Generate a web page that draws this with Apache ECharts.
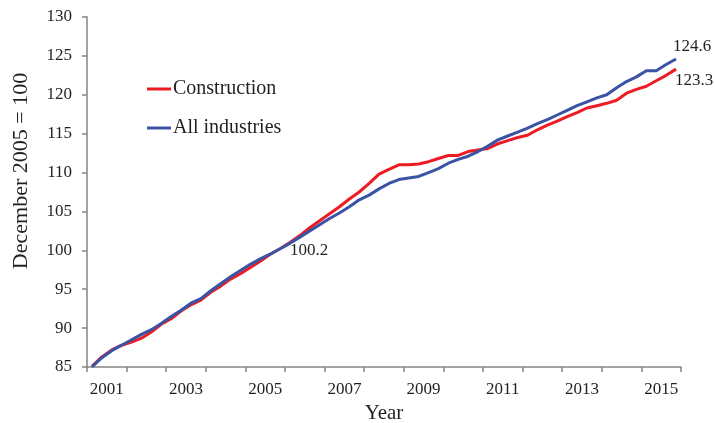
<!DOCTYPE html>
<html>
<head>
<meta charset="utf-8">
<script src="https://cdn.jsdelivr.net/npm/echarts@6/dist/echarts.min.js"></script>
<style>
  html, body { margin: 0; padding: 0; background: #fff; }
  #chart { width: 715px; height: 423px; }
</style>
</head>
<body>
<div id="chart"></div>
<script>
// Year categories (x axis ticks / labels)
const years = ['2001','2002','2003','2004','2005','2006','2007','2008','2009','2010','2011','2012','2013','2014','2015'];
// Quarterly categories (data positions)
const quarters = [];
years.forEach(function (y) { ['Q1','Q2','Q3','Q4'].forEach(function (q) { quarters.push(y + q); }); });

// Employment cost index, December 2005 = 100
const construction = [
  85.1, 86.3, 87.2, 87.8, 88.2, 88.7, 89.5, 90.5,
  91.2, 92.2, 93.0, 93.6, 94.6, 95.4, 96.3, 97.0,
  97.8, 98.6, 99.5, 100.2, 101.0, 101.9, 102.9, 103.8,
  104.7, 105.6, 106.6, 107.5, 108.6, 109.8, 110.4, 111.0,
  111.0, 111.1, 111.4, 111.8, 112.2, 112.2, 112.7, 112.9,
  113.1, 113.7, 114.1, 114.5, 114.8, 115.5, 116.1, 116.6,
  117.2, 117.7, 118.3, 118.6, 118.9, 119.3, 120.2, 120.7,
  121.1, 121.8, 122.5, 123.3
];
const allIndustries = [
  85.0, 86.2, 87.1, 87.8, 88.5, 89.2, 89.8, 90.6,
  91.5, 92.3, 93.2, 93.8, 94.8, 95.7, 96.6, 97.4,
  98.2, 98.9, 99.5, 100.2, 100.9, 101.7, 102.5, 103.3,
  104.1, 104.8, 105.6, 106.5, 107.1, 107.9, 108.6, 109.1,
  109.3, 109.5, 110.0, 110.5, 111.2, 111.7, 112.1, 112.7,
  113.4, 114.2, 114.7, 115.2, 115.7, 116.3, 116.8, 117.4,
  118.0, 118.6, 119.1, 119.6, 120.0, 120.9, 121.7, 122.3,
  123.1, 123.1, 123.9, 124.6
];
const seriesNames = ['Construction', 'All industries'];
const yTicks = { min: 85, max: 130, interval: 5 };
const annotateIndex = 19; // December 2005

const FONT = "'Liberation Serif', 'Times New Roman', serif";
const TXT = '#231f20';
const AXIS = '#858585';
const RED = '#ed1c24';
const BLUE = '#3a53a4';
const last = quarters.length - 1;

const chart = echarts.init(document.getElementById('chart'), null, { renderer: 'canvas' });
chart.setOption({
  animation: false,
  backgroundColor: '#ffffff',
  grid: { left: 87, right: 34, top: 17, bottom: 56, containLabel: false, outerBoundsMode: 'none' },
  legend: {
    orient: 'vertical',
    left: 147,
    top: 78,
    padding: 0,
    itemWidth: 24,
    itemHeight: 3,
    itemGap: 17,
    icon: 'rect',
    data: seriesNames,
    textStyle: { fontFamily: FONT, fontSize: 20, color: TXT, padding: [0, 0, 0, -3], lineHeight: 22 }
  },
  graphic: [{
    type: 'text',
    x: 21,
    y: 171,
    rotation: Math.PI / 2,
    style: {
      text: 'December 2005 = 100',
      font: '22px ' + FONT,
      fill: TXT,
      textAlign: 'center',
      textVerticalAlign: 'middle'
    }
  }],
  xAxis: [{
    type: 'category',
    data: years,
    boundaryGap: true,
    name: 'Year',
    nameLocation: 'middle',
    nameGap: 36,
    nameTextStyle: { fontFamily: FONT, fontSize: 21, color: TXT },
    axisLine: { lineStyle: { color: AXIS, width: 1.5 } },
    axisTick: { show: true, interval: 0, length: 5, lineStyle: { color: AXIS, width: 1.5 } },
    axisLabel: { interval: 1, margin: 14, fontFamily: FONT, fontSize: 17, color: TXT },
    splitLine: { show: false }
  }, {
    type: 'category',
    data: quarters,
    boundaryGap: true,
    show: false
  }],
  yAxis: {
    type: 'value',
    min: yTicks.min,
    max: yTicks.max,
    interval: yTicks.interval,
    axisLine: { show: true, lineStyle: { color: AXIS, width: 1.5 } },
    axisTick: { show: true, length: 5, lineStyle: { color: AXIS, width: 1.5 } },
    axisLabel: { margin: 15, fontFamily: FONT, fontSize: 17, color: TXT },
    splitLine: { show: false }
  },
  series: [{
    name: seriesNames[0],
    type: 'line',
    xAxisIndex: 1,
    data: construction,
    showSymbol: false,
    symbol: 'none',
    lineStyle: { color: RED, width: 3 },
    itemStyle: { color: RED },
    z: 2,
    markPoint: {
      symbol: 'circle',
      symbolSize: 0,
      itemStyle: { color: 'rgba(0,0,0,0)' },
      label: { show: true, position: 'right', fontFamily: FONT, fontSize: 17, color: TXT,
               formatter: function (p) { return p.value.toFixed(1); } },
      data: [{ coord: [quarters[last], construction[last]], value: construction[last], label: { offset: [-6, 11] } }]
    }
  }, {
    name: seriesNames[1],
    type: 'line',
    xAxisIndex: 1,
    data: allIndustries,
    showSymbol: false,
    symbol: 'none',
    lineStyle: { color: BLUE, width: 3 },
    itemStyle: { color: BLUE },
    z: 3,
    markPoint: {
      symbol: 'circle',
      symbolSize: 0,
      itemStyle: { color: 'rgba(0,0,0,0)' },
      label: { show: true, position: 'right', fontFamily: FONT, fontSize: 17, color: TXT,
               formatter: function (p) { return p.value.toFixed(1); } },
      data: [
        { coord: [quarters[last], allIndustries[last]], value: allIndustries[last], label: { offset: [-8, -12] } },
        { coord: [quarters[annotateIndex], allIndustries[annotateIndex]], value: allIndustries[annotateIndex], label: { offset: [5, 2] } }
      ]
    }
  }]
});
</script>
</body>
</html>
